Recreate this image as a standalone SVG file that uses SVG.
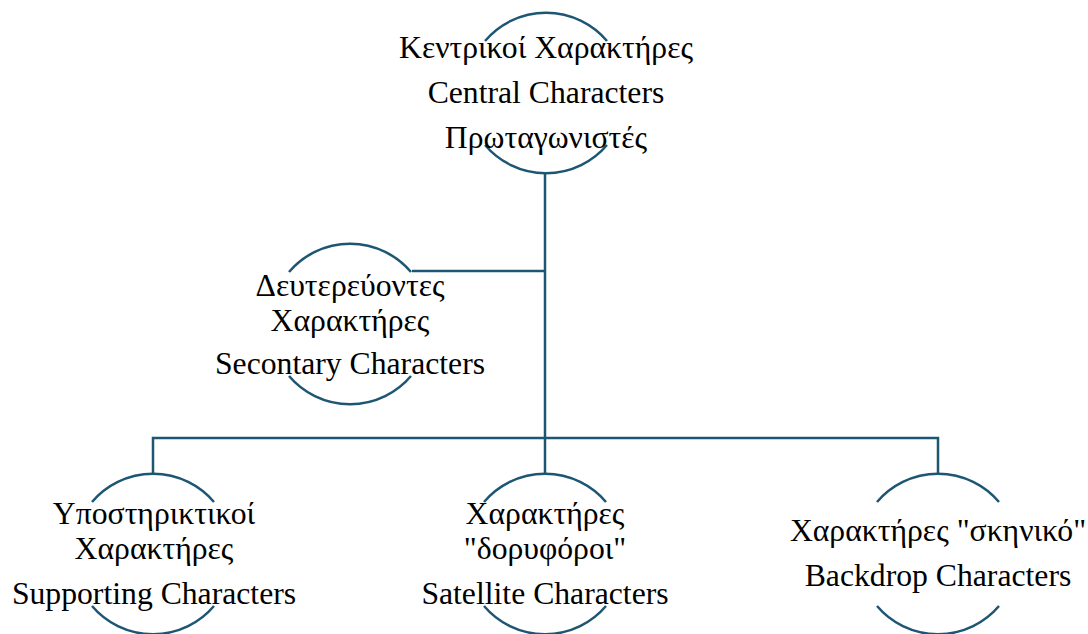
<svg xmlns="http://www.w3.org/2000/svg" width="1088" height="634" viewBox="0 0 1088 634">
<style>
.arc{fill:none;stroke:#1c5673;stroke-width:2.5}
.ln{fill:none;stroke:#1c5673;stroke-width:2.5}
text{font-family:"Liberation Serif","Times New Roman",serif;font-size:31.7px;fill:#000;text-anchor:middle}
</style>
<rect width="1088" height="634" fill="#fff"/>
<g id="connectors">
<path class="ln" d="M545 174V438"/>
<path class="ln" d="M545 271H412"/>
<path class="ln" d="M153 474V438H938V474"/>
<path class="ln" d="M545 438V474"/>
</g>
<g id="central">
<path class="arc" d="M485 41A80 80 0 0 1 607 41"/>
<path class="arc" d="M485 145A80 80 0 0 0 607 145"/>
<text x="546" y="58">Κεντρικοί Χαρακτήρες</text>
<text x="546" y="103">Central Characters</text>
<text x="546" y="148">Πρωταγωνιστές</text>
</g>
<g id="secondary">
<path class="arc" d="M289 272A80 80 0 0 1 411 272"/>
<path class="arc" d="M289 376A80 80 0 0 0 411 376"/>
<text x="350" y="296">Δευτερεύοντες</text>
<text x="350" y="331">Χαρακτήρες</text>
<text x="350" y="374">Secontary Characters</text>
</g>
<g id="supporting">
<path class="arc" d="M92 502A80 80 0 0 1 214 502"/>
<path class="arc" d="M92 606A80 80 0 0 0 214 606"/>
<text x="154" y="524">Υποστηρικτικοί</text>
<text x="154" y="559">Χαρακτήρες</text>
<text x="154" y="604">Supporting Characters</text>
</g>
<g id="satellite">
<path class="arc" d="M484 502A80 80 0 0 1 606 502"/>
<path class="arc" d="M484 606A80 80 0 0 0 606 606"/>
<text x="545" y="524">Χαρακτήρες</text>
<text x="545" y="559">"δορυφόροι"</text>
<text x="545" y="604">Satellite Characters</text>
</g>
<g id="backdrop">
<path class="arc" d="M877 502A80 80 0 0 1 999 502"/>
<path class="arc" d="M877 606A80 80 0 0 0 999 606"/>
<text x="938" y="541">Χαρακτήρες "σκηνικό"</text>
<text x="938" y="586">Backdrop Characters</text>
</g>
</svg>
